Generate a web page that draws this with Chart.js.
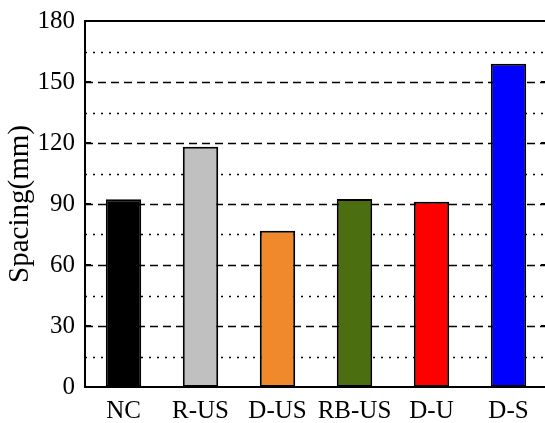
<!DOCTYPE html>
<html>
<head>
<meta charset="utf-8">
<script src="https://cdn.jsdelivr.net/npm/chart.js@4.4.1/dist/chart.umd.min.js"></script>
<style>
    html, body { margin: 0; padding: 0; background: #fff; overflow: hidden; }
    #wrap { width: 550px; height: 423px; }
</style>
</head>
<body>
<div id="wrap"><canvas id="chart-bars" width="550" height="423"></canvas></div>
<script>
const categories = ["NC", "R-US", "D-US", "RB-US", "D-U", "D-S"];
const spacing = [92.3, 118.2, 76.9, 92.5, 91.1, 159.0];
const barColors = ["#000000", "#c0c0c0", "#f0882c", "#4a6e10", "#ff0000", "#0000ff"];
const yTicks = [0, 30, 60, 90, 120, 150, 180];

// grid lines (dashed at labelled ticks, dotted in between) + frame + inward ticks
const gridPlugin = {
    id: 'gridPlugin',
    beforeDatasetsDraw(chart) {
        const ctx = chart.ctx;
        const a = chart.chartArea;
        const y = chart.scales.y;
        ctx.save();
        ctx.strokeStyle = '#000';
        ctx.lineWidth = 1.5;
        for (let v = 15; v < 180; v += 15) {
            const py = Math.round(y.getPixelForValue(v)) + 0.5;
            ctx.setLineDash(v % 30 === 0 ? [8, 5] : [2, 6]);
            ctx.beginPath();
            ctx.moveTo(a.left, py);
            ctx.lineTo(a.right, py);
            ctx.stroke();
        }
        ctx.restore();
    },
    afterDatasetsDraw(chart) {
        const ctx = chart.ctx;
        const a = chart.chartArea;
        const y = chart.scales.y;
        ctx.save();
        ctx.strokeStyle = '#000';
        ctx.lineWidth = 2;
        ctx.setLineDash([]);
        ctx.strokeRect(a.left, a.top, a.right - a.left, a.bottom - a.top);
        yTicks.forEach(v => {
            const py = y.getPixelForValue(v);
            ctx.beginPath();
            ctx.moveTo(a.left, py);
            ctx.lineTo(a.left + 6, py);
            ctx.moveTo(a.right, py);
            ctx.lineTo(a.right - 6, py);
            ctx.stroke();
        });
        ctx.restore();
    }
};

new Chart(document.getElementById("chart-bars").getContext("2d"), {
    type: "bar",
    data: {
        labels: categories,
        datasets: [{
            label: "Spacing",
            data: spacing,
            backgroundColor: barColors,
            borderColor: "#000",
            borderWidth: 2,
            borderSkipped: false,
            barPercentage: 0.46,
            categoryPercentage: 1.0
        }]
    },
    options: {
        responsive: false,
        animation: false,
        devicePixelRatio: 1,
        layout: {
            padding: { top: 21, right: 3, left: 0, bottom: 0 }
        },
        plugins: {
            legend: { display: false },
            tooltip: { enabled: false }
        },
        scales: {
            y: {
                min: 0,
                max: 180,
                afterFit: s => { s.width = 85; s.paddingTop = 0; s.paddingBottom = 0; },
                grid: { display: false, drawTicks: false },
                border: { display: false },
                ticks: {
                    stepSize: 30,
                    padding: 10,
                    color: '#000',
                    font: { family: "Liberation Serif", size: 25 }
                },
                title: {
                    display: true,
                    text: "Spacing(mm)",
                    color: '#000',
                    padding: { top: 3, bottom: 0 },
                    font: { family: "Liberation Serif", size: 29 }
                }
            },
            x: {
                afterFit: s => { s.height = 36; s.paddingLeft = 0; s.paddingRight = 0; },
                grid: { display: false, drawTicks: false },
                border: { display: false },
                ticks: {
                    padding: 9,
                    color: '#000',
                    maxRotation: 0,
                    font: { family: "Liberation Serif", size: 25 }
                }
            }
        }
    },
    plugins: [gridPlugin]
});
</script>
</body>
</html>
